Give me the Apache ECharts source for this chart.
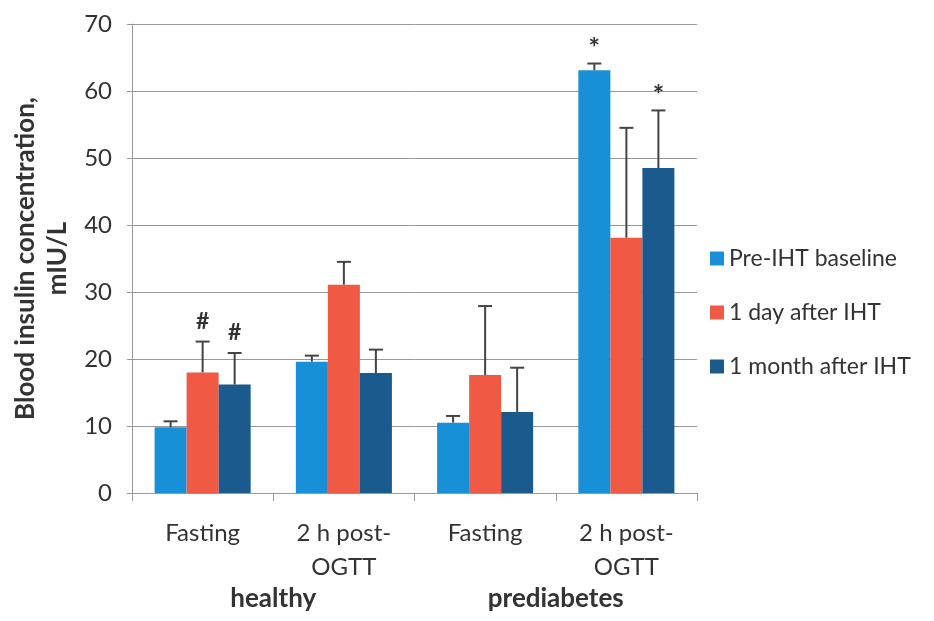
<!DOCTYPE html>
<html>
<head>
<meta charset="utf-8">
<script src="https://cdn.jsdelivr.net/npm/echarts@6/dist/echarts.min.js"></script>
<style>
html,body{margin:0;padding:0;background:#fff;}
#chart{width:934px;height:621px;}
</style>
</head>
<body>
<div id="chart"></div>
<script>
const categories = ['Fasting', '2 h post-\nOGTT', 'Fasting', '2 h post-\nOGTT'];
const groups = ['healthy', 'prediabetes'];
const seriesNames = ['Pre-IHT baseline', '1 day after IHT', '1 month after IHT'];
const yTicks = [0, 10, 20, 30, 40, 50, 60, 70];

const baseline = [9.8, 19.6, 10.5, 63.1];
const day1 = [18.0, 31.1, 17.6, 38.1];
const month1 = [16.2, 17.9, 12.1, 48.5];

const baselineErr = [0.9, 0.9, 1.0, 1.0];
const day1Err = [4.6, 3.4, 10.3, 16.4];
const month1Err = [4.7, 3.5, 6.6, 8.6];

const baselineMark = ['', '', '', '*'];
const day1Mark = ['#', '', '', ''];
const month1Mark = ['#', '', '', '*'];

const colors = ['#1890d8', '#f05a45', '#1b5a8c'];
const FONT = 'Lato, "Open Sans", sans-serif';
const CAT_GAP = 0.32;

const values = [baseline, day1, month1];
const errs = [baselineErr, day1Err, month1Err];
const marks = [baselineMark, day1Mark, month1Mark];

const chart = echarts.init(document.getElementById('chart'));

function errSeries(k) {
  return {
    type: 'custom',
    name: seriesNames[k] + ' err',
    z: 5,
    data: values[k].map((v, i) => [i, v, errs[k][i]]),
    encode: { x: 0, y: 1 },
    renderItem: function (params, api) {
      const cat = api.value(0);
      const v = api.value(1);
      const e = api.value(2);
      const m = marks[k][cat];
      const bandW = api.size([1, 0])[0];
      const barW = bandW * (1 - CAT_GAP) / 3;
      const cx = api.coord([cat, 0])[0] + (k - 1) * barW;
      const yBase = api.coord([cat, v])[1];
      const yTop = api.coord([cat, v + e])[1];
      const stroke = { stroke: '#444', lineWidth: 2 };
      const children = [
        { type: 'line', shape: { x1: cx, y1: yBase, x2: cx, y2: yTop }, style: stroke },
        { type: 'line', shape: { x1: cx - 7, y1: yTop, x2: cx + 7, y2: yTop }, style: stroke }
      ];
      if (m) {
        const isHash = m === '#';
        children.push({
          type: 'text',
          style: {
            text: m, x: cx, y: yTop - (isHash ? 9 : 2),
            textAlign: 'center', textVerticalAlign: 'bottom',
            fill: '#333', font: (isHash ? 'bold 23px ' : 'bold 27px ') + FONT
          }
        });
      }
      return { type: 'group', children: children };
    }
  };
}

const option = {
  backgroundColor: '#fff',
  animation: false,
  textStyle: { fontFamily: FONT },
  grid: { left: 132, right: 237, top: 24, bottom: 128, containLabel: false },
  legend: {
    data: seriesNames,
    orient: 'vertical',
    left: 705,
    top: 242,
    itemWidth: 14,
    itemHeight: 14,
    itemGap: 31,
    icon: 'rect',
    textStyle: { fontSize: 23, color: '#333', fontFamily: FONT }
  },
  xAxis: [
    {
      type: 'category',
      data: categories,
      axisLine: { lineStyle: { color: '#999', width: 1 } },
      axisTick: { show: true, length: 8, lineStyle: { color: '#999' } },
      axisLabel: { fontSize: 24, color: '#333', margin: 23, lineHeight: 34, interval: 0 },
      splitLine: { show: false }
    },
    {
      type: 'category',
      data: groups,
      position: 'bottom',
      axisLine: { show: false },
      axisTick: { show: false },
      axisLabel: { fontSize: 26, fontWeight: 'bold', color: '#333', margin: 93, interval: 0 }
    }
  ],
  yAxis: {
    type: 'value',
    min: yTicks[0],
    max: yTicks[yTicks.length - 1],
    interval: yTicks[1] - yTicks[0],
    name: 'Blood insulin concentration,\nmIU/L',
    nameLocation: 'middle',
    nameGap: 58,
    nameTextStyle: { fontSize: 26, fontWeight: 'bold', color: '#333', lineHeight: 32 },
    axisLine: { show: true, lineStyle: { color: '#999' } },
    axisTick: { show: true, length: 5, lineStyle: { color: '#999' } },
    axisLabel: { fontSize: 24, color: '#333', margin: 20 },
    splitLine: { lineStyle: { color: '#999', width: 1 } }
  },
  series: [
    ...seriesNames.map((n, k) => ({
      type: 'bar',
      name: n,
      data: values[k],
      barGap: '0%',
      barCategoryGap: (CAT_GAP * 100) + '%',
      itemStyle: { color: colors[k] }
    })),
    errSeries(0), errSeries(1), errSeries(2)
  ]
};
chart.setOption(option);
</script>
</body>
</html>
